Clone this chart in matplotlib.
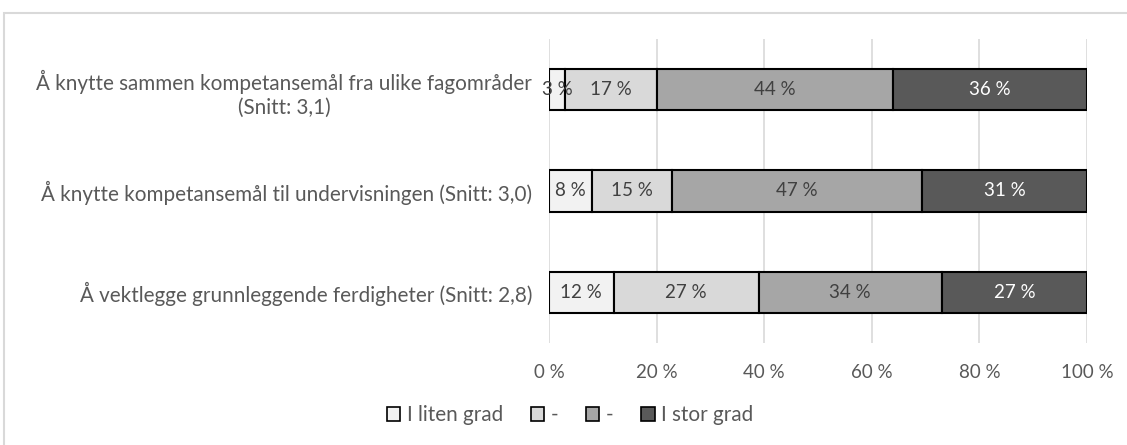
import matplotlib
matplotlib.use("Agg")
import matplotlib.pyplot as plt
from matplotlib.patches import Rectangle, Patch
import numpy as np

categories = [
    "Å knytte sammen kompetansemål fra ulike fagområder\n(Snitt: 3,1)",
    "Å knytte kompetansemål til undervisningen (Snitt: 3,0)",
    "Å vektlegge grunnleggende ferdigheter (Snitt: 2,8)",
]
series_names = ["I liten grad", "-", "-", "I stor grad"]
values = {
    "I liten grad": [3, 8, 12],
    "-a": [17, 15, 27],
    "-b": [44, 47, 34],
    "I stor grad": [36, 31, 27],
}
colors = ["#F2F2F2", "#D9D9D9", "#A6A6A6", "#595959"]
text_colors = ["#404040", "#404040", "#404040", "#FFFFFF"]
xticks = [0, 20, 40, 60, 80, 100]

plt.rcParams['font.family'] = ['Lato', 'DejaVu Sans']
FS = 13.5
FS_CAT = 14.9

fig = plt.figure(figsize=(11.27, 4.45), dpi=100)
ax = fig.add_axes([549/1127, 1-343/445, (1087-549)/1127, (343-39)/445])

data = np.array(list(values.values()), dtype=float)
totals = data.sum(axis=0)
pct = data / totals * 100
y = np.arange(len(categories))
left = np.zeros(len(categories))
for i, key in enumerate(values.keys()):
    bars = ax.barh(y, pct[i], left=left, height=0.41, color=colors[i],
                   edgecolor="black", linewidth=1.5, zorder=3)
    for j, b in enumerate(bars):
        ax.text(left[j] + pct[i][j] / 2, y[j], f"{int(data[i][j])} %",
                ha="center", va="center", fontsize=FS,
                color=text_colors[i], zorder=4)
    left += pct[i]

ax.set_xlim(0, 100)
ax.set_ylim(len(categories) - 0.5, -0.5)
ax.set_yticks(y)
ax.set_yticklabels(categories, fontsize=FS_CAT, color="#595959",
                   multialignment="center", linespacing=1.25)
ax.set_xticks(xticks)
ax.set_xticklabels([f"{t} %" for t in xticks], fontsize=FS, color="#595959")
ax.tick_params(axis="both", length=0)
ax.tick_params(axis="x", pad=15)
ax.tick_params(axis="y", pad=12)
for s in ax.spines.values():
    s.set_visible(False)
ax.grid(axis="x", color="#D9D9D9", linewidth=1.2, zorder=0)
ax.set_axisbelow(True)

handles = [Patch(facecolor=c, edgecolor="black", linewidth=1.2) for c in colors]
fig.legend(handles, series_names, loc="center", bbox_to_anchor=(570/1127, 1-415/445),
           ncol=4, frameon=False, fontsize=FS_CAT, labelcolor="#595959",
           handlelength=0.65, handleheight=0.65, handletextpad=0.3, columnspacing=1.35)

fig.add_artist(Rectangle((4/1127, -0.1), 1.2, 1-13/445+0.1, transform=fig.transFigure,
                         fill=False, edgecolor="#D9D9D9", linewidth=1.5))

fig.savefig("out.png", dpi=100)
